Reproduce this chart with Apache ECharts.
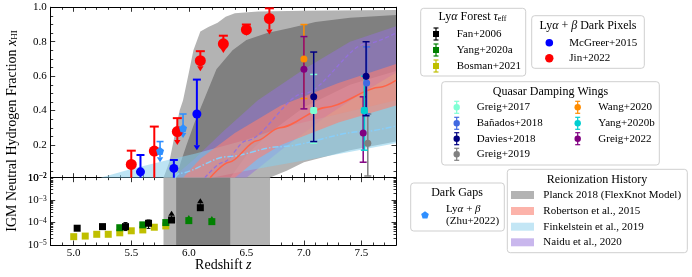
<!DOCTYPE html>
<html><head><meta charset="utf-8">
<script src="https://cdn.jsdelivr.net/npm/echarts@6/dist/echarts.min.js"></script>
<style>html,body{margin:0;padding:0;background:#fff}#c{width:692px;height:277px}</style>
</head><body><div id="c"></div>
<script>
const S = 'Liberation Serif';
const zMin = 4.8, zMax = 7.8;
const xMajor = [5.0,5.5,6.0,6.5,7.0,7.5];
const xMinor = [4.9,5.1,5.2,5.3,5.4,5.6,5.7,5.8,5.9,6.1,6.2,6.3,6.4,6.6,6.7,6.8,6.9,7.1,7.2,7.3,7.4,7.6,7.7];
const yTopLabels = [0.01,0.2,0.4,0.6,0.8,1.0];
const yTopMajor = [0.2,0.4,0.6,0.8];
const yTopMinor = [0.05,0.1,0.15,0.25,0.3,0.35,0.45,0.5,0.55,0.65,0.7,0.75,0.85,0.9,0.95];
const yBotMinorMant = [2,3,4,5,6,7,8,9];
const yBotDecades = [-5,-4,-3];

// Reionization history bands (z, xHI)
const planck2Up = [[5.78,0.01],[5.83,0.1],[5.86,0.2],[5.92,0.4],[5.95,0.46],[6.0,0.62],[6.04,0.75],[6.10,0.86],[6.17,0.885],[6.25,0.91],[6.32,0.945],[6.40,0.965],[6.6,0.975],[7.0,0.98],[7.8,0.985]];
const planck2Lo = [[5.78,0.01],[6.7,0.01],[6.85,0.05],[7.0,0.10],[7.4,0.17],[7.8,0.22]];
const planck1Up = [[5.89,0.01],[5.93,0.1],[5.98,0.2],[6.05,0.33],[6.13,0.46],[6.24,0.64],[6.38,0.75],[6.5,0.81],[6.68,0.85],[6.88,0.88],[7.1,0.915],[7.4,0.94],[7.8,0.955]];
const planck1Lo = [[5.89,0.01],[6.36,0.01],[6.5,0.14],[6.7,0.27],[7.0,0.42],[7.4,0.55],[7.8,0.63]];
const robUp = [[5.95,0.01],[6.1,0.12],[6.4,0.27],[6.8,0.43],[7.3,0.56],[7.8,0.67]];
const robLo = [[5.95,0.01],[6.4,0.01],[6.6,0.12],[6.8,0.2],[7.3,0.33],[7.8,0.43]];
const robMid = [[6.185,0.01],[6.35,0.1],[6.59,0.225],[6.79,0.30],[7.2,0.42],[7.66,0.535],[7.8,0.575]];
const finkUp = [[5.23,0.01],[5.5,0.06],[5.8,0.11],[6.06,0.15],[6.5,0.23],[6.8,0.30],[7.3,0.38],[7.8,0.46]];
const finkLo = [[5.23,0.01],[6.2,0.01],[6.5,0.05],[7.0,0.11],[7.8,0.21]];
const finkMid = [[5.88,0.01],[5.92,0.036],[6.33,0.132],[6.79,0.19],[7.51,0.278],[7.8,0.31]];
const naiduUp = [[5.86,0.01],[6.05,0.12],[6.3,0.28],[6.6,0.46],[7.0,0.64],[7.4,0.8],[7.8,0.89]];
const naiduLo = [[5.86,0.01],[6.5,0.01],[6.8,0.17],[7.2,0.37],[7.5,0.5],[7.8,0.62]];
const naiduMid = [[6.14,0.01],[6.3,0.1],[6.5,0.225],[7.0,0.5],[7.55,0.79],[7.8,0.85]];
const planckBot2 = [5.78,6.705];
const planckBot1 = [5.89,6.36];

// points: [z, xHI, lo, hi, kind]  kind 0=both caps,1=upper limit,2=lower limit,3=top cap only
const jin2022 = [[5.5,0.087,0.01,0.167,3],[5.7,0.165,0.01,0.307,3],[5.9,0.278,0.20,0.356,1],[6.1,0.69,0.628,0.745,1],[6.3,0.788,0.735,0.835,1],[6.5,0.87,0.834,0.90,1],[6.7,0.935,0.842,0.994,1]];
const mcgreer2015 = [[5.58,0.044,0.01,0.142,3],[5.87,0.064,0.01,0.113,3],[6.07,0.38,0.17,0.58,1]];
const zhu2022 = [[5.75,0.165,0.10,0.22,1],[5.95,0.297,0.24,0.38,1]];
const greig2017 = [[7.085,0.40,0.21,0.61,0]];
const banados2018 = [[7.545,0.56,0.38,0.77,0]];
const davies2018 = [[7.085,0.48,0.22,0.74,0],[7.54,0.60,0.37,0.80,0]];
const greig2019 = [[7.555,0.21,0.02,0.38,0]];
const wang2020 = [[7.0,0.70,0.47,0.90,0]];
const yang2020b = [[7.525,0.40,0.17,0.60,0]];
const greig2022 = [[7.0,0.64,0.41,0.83,0],[7.515,0.27,0.10,0.48,0]];
// Lya forest tau_eff (bottom panel, log)
const fan2006 = [[5.03,5.6e-5,4.8e-5,6.6e-5,0],[5.25,6.6e-5,5.6e-5,7.8e-5,0],[5.45,6.6e-5,4.4e-5,1.0e-4,0],[5.65,9.3e-5,5.5e-5,1.3e-4,0],[5.85,1.3e-4,1.3e-4,3.4e-4,2],[6.10,4.6e-4,4.6e-4,1.2e-3,2]];
const yang2020a = [[5.4,5.9e-5,5.9e-5,5.9e-5,0],[5.6,7.9e-5,7.9e-5,7.9e-5,0],[5.8,1.0e-4,1.0e-4,1.0e-4,0],[6.0,1.22e-4,1.22e-4,2.2e-4,2],[6.2,1.1e-4,1.1e-4,1.95e-4,2]];
const bosman2021 = [[5.0,2.35e-5],[5.1,2.5e-5],[5.2,3.0e-5],[5.3,3.0e-5],[5.4,3.5e-5],[5.5,4.3e-5],[5.6,4.7e-5],[5.7,6.2e-5],[5.8,7.1e-5]];

const chart = echarts.init(document.getElementById('c'));

function xa(gi,pos,ticks,len,labels){
  return {type:'value',gridIndex:gi,position:pos,min:zMin,max:zMax,
    axisLine:{show:true,onZero:false,lineStyle:{color:'#000',width:1}},
    axisTick:{show:true,inside:true,length:len,customValues:ticks,lineStyle:{color:'#000',width:0.8}},
    axisLabel:labels?{show:true,customValues:xMajor,formatter:v=>v.toFixed(1),fontFamily:S,fontSize:11,color:'#000',margin:3}:{show:false},
    splitLine:{show:false},minorTick:{show:false}};
}
const rich = {b:{fontFamily:S,fontSize:11,color:'#000'},s:{fontFamily:S,fontSize:7.5,color:'#000',verticalAlign:'top'}};
function yaTop(pos,ticks,len,labels){
  return {type:'value',gridIndex:0,position:pos,min:0.01,max:1.0,
    axisLine:{show:true,onZero:false,lineStyle:{color:'#000',width:1}},
    axisTick:{show:true,inside:true,length:len,customValues:ticks,lineStyle:{color:'#000',width:0.8}},
    axisLabel:labels?{show:true,customValues:yTopLabels,formatter:v=>v<0.05?'{b|10}{s|−2}':'{b|'+v.toFixed(1)+'}',fontFamily:S,fontSize:11,color:'#000',margin:4,rich}:{show:false},
    splitLine:{show:false}};
}
function yaBotLog(pos,labels){
  return {type:'log',logBase:10,gridIndex:1,position:pos,min:1e-5,max:1e-2,
    axisLine:{show:true,onZero:false,lineStyle:{color:'#000',width:1}},
    axisTick:{show:true,inside:true,length:4.5,lineStyle:{color:'#000',width:0.8}},
    axisLabel:labels?{show:true,showMaxLabel:false,formatter:v=>'{b|10}{s|−'+Math.round(-Math.log10(v))+'}',color:'#000',margin:4,rich}:{show:false},
    splitLine:{show:false},minorTick:{show:false}};
}
const botMinorLog = [];
yBotDecades.forEach(d=>yBotMinorMant.forEach(m=>botMinorLog.push(d+Math.log10(m))));
function yaBotMinor(pos){
  return {type:'value',gridIndex:1,position:pos,min:-5,max:-2,
    axisLine:{show:false},axisTick:{show:true,inside:true,length:2.5,customValues:botMinorLog,lineStyle:{color:'#000',width:0.8}},
    axisLabel:{show:false},splitLine:{show:false}};
}

function band(up,lo,fill,op,xi,yi){
  const pts = up.concat(lo.slice().reverse());
  return {type:'custom',xAxisIndex:xi||0,yAxisIndex:yi||0,silent:true,z:1,data:[[pts[0][0],pts[0][1]]],
    renderItem:(p,api)=>({type:'polygon',shape:{points:pts.map(q=>api.coord(q))},style:{fill:fill,opacity:op}})};
}
function vband(r,fill){
  const pts=[[r[0],1e-5],[r[1],1e-5],[r[1],1e-2],[r[0],1e-2]];
  return {type:'custom',xAxisIndex:4,yAxisIndex:4,silent:true,z:1,data:[[r[0],1e-4]],
    renderItem:(p,api)=>({type:'polygon',shape:{points:pts.map(q=>api.coord(q))},style:{fill:fill}})};
}
function ln(data,color,w,type){
  return {type:'line',xAxisIndex:0,yAxisIndex:0,data:data,symbol:'none',smooth:0.3,smoothMonotone:'x',silent:true,z:3,
    lineStyle:{color:color,width:w,type:type||'solid'}};
}
function eb(data,color,lw,capW,xi,yi,z){
  return {type:'custom',xAxisIndex:xi,yAxisIndex:yi,silent:true,z:z||8,data:data.map(d=>[d[0],d[1],d[2],d[3],d[4]]),
    encode:{x:0,y:1},
    renderItem:(p,api)=>{
      const x=api.value(0),lo=api.value(2),hi=api.value(3),k=api.value(4);
      const a=api.coord([x,lo]),b=api.coord([x,hi]);
      const px=a[0],yl=a[1],yh=b[1],h=capW/2,st={stroke:color,lineWidth:lw};
      const ah=3.2,al=5;
      let y1=yl,y2=yh;
      if(k===1) y1=yl-al;
      if(k===2) y2=yh+al;
      const ch=[{type:'line',shape:{x1:px,y1:y1,x2:px,y2:y2},style:st}];
      if(k===0||k===1||k===3) ch.push({type:'line',shape:{x1:px-h,y1:yh,x2:px+h,y2:yh},style:st});
      if(k===0) ch.push({type:'line',shape:{x1:px-h,y1:yl,x2:px+h,y2:yl},style:st});
      if(k===1) ch.push({type:'polygon',shape:{points:[[px-ah,yl-al],[px+ah,yl-al],[px,yl]]},style:{fill:color}});
      if(k===2) ch.push({type:'polygon',shape:{points:[[px-ah,yh+al],[px+ah,yh+al],[px,yh]]},style:{fill:color}});
      return {type:'group',children:ch};
    }};
}
function sc(data,symbol,size,color,xi,yi,z){
  return {type:'scatter',xAxisIndex:xi,yAxisIndex:yi,silent:true,z:z||9,data:data.map(d=>[d[0],d[1]]),
    symbol:symbol,symbolSize:size,itemStyle:{color:color,opacity:1},emphasis:{disabled:true}};
}
const PENT = 'path://M0,-10L9.51,-3.09L5.88,8.09L-5.88,8.09L-9.51,-3.09Z';

const C = {jin:'#ff0000',mcg:'#0000ff',zhu:'#2f8fff',fan:'#000000',yanga:'#008000',bos:'#bfbf00',
  g17:'#7fffd4',ban:'#4169e1',dav:'#000080',g19:'#808080',wang:'#ff8c00',yangb:'#00ced1',g22:'#800080'};

const series = [
  band(planck2Up,planck2Lo,'#b3b3b3',1),
  band(planck1Up,planck1Lo,'#808080',1),
  band(naiduUp,naiduLo,'#9370db',0.5),
  band(finkUp,finkLo,'#87ceeb',0.55),
  band(robUp,robLo,'#fa8072',0.6),
  ln(naiduMid,'#9370db',1.3,[4,2.5]),
  ln(finkMid,'#87cefa',1.5,[6,2,1.5,2]),
  ln(robMid,'#ff6347',1.5),
  vband(planckBot2,'#b3b3b3'),
  vband(planckBot1,'#808080'),
  eb(mcgreer2015,C.mcg,2,8,0,0), sc(mcgreer2015,'circle',9,C.mcg,0,0),
  eb(jin2022,C.jin,2,9,0,0), sc(jin2022,'circle',11,C.jin,0,0),
  eb(zhu2022,C.zhu,1.6,7,0,0), sc(zhu2022,PENT,8,C.zhu,0,0),
  eb(greig2019,C.g19,1.5,7,0,0), sc(greig2019,'circle',7,C.g19,0,0),
  eb(wang2020,C.wang,1.5,7,0,0), sc(wang2020,'circle',7,C.wang,0,0),
  eb(greig2022,C.g22,1.5,7,0,0), sc(greig2022,'circle',7,C.g22,0,0),
  eb(yang2020b,C.yangb,1.5,7,0,0), sc(yang2020b,'roundRect',7,C.yangb,0,0),
  eb(greig2017,C.g17,1.5,7,0,0), sc(greig2017,'roundRect',7,C.g17,0,0),
  eb(banados2018,C.ban,1.5,7,0,0), sc(banados2018,'circle',7,C.ban,0,0),
  eb(davies2018,C.dav,1.5,7,0,0), sc(davies2018,'circle',7,C.dav,0,0),
  sc(bosman2021,'rect',7,C.bos,4,4),
  eb(yang2020a,C.yanga,1,4,4,4), sc(yang2020a,'rect',7,C.yanga,4,4),
  eb(fan2006,C.fan,1,4,4,4), sc(fan2006,'rect',7,C.fan,4,4)
];

// ---------- legends (graphic) ----------
const G = [];
function box(x,y,w,h){G.push({type:'rect',z:100,shape:{x:x,y:y,width:w,height:h,r:3},style:{fill:'rgba(255,255,255,0.85)',stroke:'#cfcfcf',lineWidth:1}});}
function txt(x,y,text,size,align,richS){G.push({type:'text',z:101,x:x,y:y,style:{text:text,fontFamily:S,fontSize:size,fill:'#000',align:align||'left',verticalAlign:'middle',textAlign:align||'left',textVerticalAlign:'middle',rich:richS}});}
function ebIcon(x,y,color,shape){
  const st={stroke:color,lineWidth:1.2};
  G.push({type:'line',z:102,shape:{x1:x,y1:y-6,x2:x,y2:y+6},style:st});
  G.push({type:'line',z:102,shape:{x1:x-2.5,y1:y-6,x2:x+2.5,y2:y-6},style:st});
  G.push({type:'line',z:102,shape:{x1:x-2.5,y1:y+6,x2:x+2.5,y2:y+6},style:st});
  if(shape==='rect') G.push({type:'rect',z:103,shape:{x:x-3,y:y-3,width:6,height:6},style:{fill:color}});
  else G.push({type:'circle',z:103,shape:{cx:x,cy:y,r:3.2},style:{fill:color}});
}
function dot(x,y,r,color){G.push({type:'circle',z:103,shape:{cx:x,cy:y,r:r},style:{fill:color}});}
function swatch(x,y,color){G.push({type:'rect',z:102,shape:{x:x,y:y-4,width:23,height:8},style:{fill:color}});}
const tr = {a:{fontFamily:S,fontSize:12,color:'#000'},i:{fontFamily:S,fontSize:12,fontStyle:'italic',color:'#000'},s:{fontFamily:S,fontSize:8,color:'#000',verticalAlign:'bottom'}};
const er = {a:{fontFamily:S,fontSize:11,color:'#000'},i:{fontFamily:S,fontSize:11,fontStyle:'italic',color:'#000'}};

box(420.7,8.3,105,67.7);
txt(472.5,17,'{a|Ly}{i|α}{a| Forest }{i|τ}{s|eff}',12,'center',tr);
ebIcon(436,34,C.fan,'rect'); txt(456.7,34,'Fan+2006',11);
ebIcon(436,50,C.yanga,'rect'); txt(456.7,50,'Yang+2020a',11);
ebIcon(436,66,C.bos,'rect'); txt(456.7,66,'Bosman+2021',11);

box(531.7,15.7,112.6,52.6);
txt(588,25.5,'{a|Ly}{i|α}{a| + }{i|β}{a| Dark Pixels}',12,'center',tr);
dot(549.3,42.7,3.8,C.mcg); txt(569.3,42.7,'McGreer+2015',11);
dot(549.3,58.3,4.2,C.jin); txt(569.3,58.3,'Jin+2022',11);

box(441.7,81.7,217.6,83.3);
txt(550.5,91.5,'Quasar Damping Wings',12,'center');
ebIcon(456.7,107.3,C.g17); txt(476.7,107.3,'Greig+2017',11);
ebIcon(456.7,123.3,C.ban); txt(476.7,123.3,'Bañados+2018',11);
ebIcon(456.7,138.7,C.dav); txt(476.7,138.7,'Davies+2018',11);
ebIcon(456.7,154.3,C.g19); txt(476.7,154.3,'Greig+2019',11);
ebIcon(577.7,107.3,C.wang); txt(598.3,107.3,'Wang+2020',11);
ebIcon(577.7,123.3,C.yangb); txt(598.3,123.3,'Yang+2020b',11);
ebIcon(577.7,138.7,C.g22); txt(598.3,138.7,'Greig+2022',11);

box(410.7,183,93.6,48);
txt(457,193,'Dark Gaps',12,'center');
G.push({type:'polygon',z:103,shape:{points:[[425,211.2],[428.8,214],[427.4,218.4],[422.6,218.4],[421.2,214]]},style:{fill:C.zhu}});
txt(446,209.5,'{a|Ly}{i|α}{a| + }{i|β}',11,'left',er);
txt(446,221,'(Zhu+2022)',11);

box(507.3,169.3,180,83.4);
txt(597,179.5,'Reionization History',12,'center');
swatch(511,195,'#b3b3b3'); txt(543.3,195,'Planck 2018 (FlexKnot Model)',11);
swatch(511,211,'rgba(250,128,114,0.6)'); txt(543.3,211,'Robertson et al., 2015',11);
swatch(511,226.7,'rgba(135,206,235,0.5)'); txt(543.3,226.7,'Finkelstein et al., 2019',11);
swatch(511,242.3,'rgba(147,112,219,0.5)'); txt(543.3,242.3,'Naidu et al., 2020',11);

// axis titles
G.push({type:'text',z:101,x:12.5,y:131,rotation:Math.PI/2,style:{text:'{a|IGM Neutral Hydrogen Fraction }{i|x}{s|HI}',align:'center',verticalAlign:'middle',textAlign:'center',textVerticalAlign:'middle',
  rich:{a:{fontFamily:S,fontSize:14,color:'#000'},i:{fontFamily:S,fontSize:14,fontStyle:'italic',color:'#000'},s:{fontFamily:S,fontSize:9,color:'#000',verticalAlign:'bottom'}}}});
G.push({type:'text',z:101,x:223.3,y:265,style:{text:'{a|Redshift }{i|z}',align:'center',verticalAlign:'middle',textAlign:'center',textVerticalAlign:'middle',
  rich:{a:{fontFamily:S,fontSize:14,color:'#000'},i:{fontFamily:S,fontSize:14,fontStyle:'italic',color:'#000'}}}});

chart.setOption({
  animation:false,
  backgroundColor:'#fff',
  grid:[{left:50.7,top:7.3,width:345.3,height:170.4,outerBoundsMode:'none',containLabel:false},
        {left:50.7,top:177.7,width:345.3,height:67.3,outerBoundsMode:'none',containLabel:false}],
  xAxis:[xa(0,'bottom',xMajor,4.5,false),xa(0,'bottom',xMinor,2.5,false),xa(0,'top',xMajor,4.5,false),xa(0,'top',xMinor,2.5,false),
         xa(1,'bottom',xMajor,4.5,true),xa(1,'bottom',xMinor,2.5,false),xa(1,'top',xMajor,4.5,false),xa(1,'top',xMinor,2.5,false)],
  yAxis:[yaTop('left',yTopMajor,4.5,true),yaTop('left',yTopMinor,2.5,false),yaTop('right',yTopMajor,4.5,false),yaTop('right',yTopMinor,2.5,false),
         yaBotLog('left',true),yaBotMinor('left'),yaBotLog('right',false),yaBotMinor('right')],
  series:series,
  graphic:{elements:G}
});
</script></body></html>
